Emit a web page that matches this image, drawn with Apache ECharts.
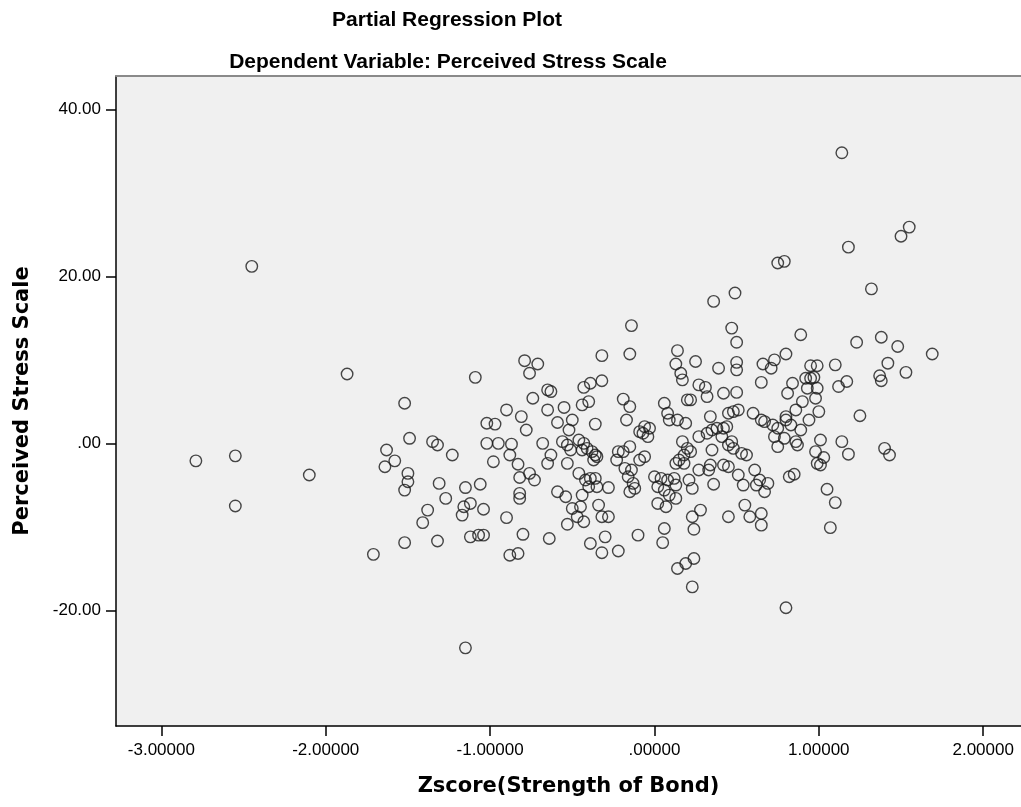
<!DOCTYPE html>
<html>
<head>
<meta charset="utf-8">
<title>Partial Regression Plot</title>
<script src="https://cdn.jsdelivr.net/npm/echarts@6.0.0/dist/echarts.min.js"></script>
<style>
  html, body { margin: 0; padding: 0; background: #fff; }
  #main { width: 1021px; height: 807px; }
</style>
</head>
<body>
<div id="main"></div>
<script>
// tick positions
var xTicks = [-3, -2, -1, 0, 1, 2];
var yTicks = [-20, 0, 20, 40];

// Zscore(Strength of Bond)
var strengthZ = [
  -2.45,-2.79,-2.55,-2.55,-2.10,-0.79,-0.71,-1.15,0.80,
  -1.87,-1.09,-0.76,-1.52,-1.49,-1.35,-1.32,-1.23,-1.63,-1.58,
  -1.64,-1.50,-1.50,-1.52,-1.31,-1.27,-1.38,-1.41,-1.52,-1.32,
  -1.71,-1.15,-1.06,-1.12,-1.16,-1.17,-1.04,-0.90,-1.12,-1.07,
  -1.04,-0.88,-0.83,-0.80,-0.64,-1.02,-0.97,-1.02,-0.95,-0.87,
  -0.90,-0.81,-0.78,-0.74,-0.98,-0.88,-0.83,-0.82,-0.76,-0.73,
  -0.82,-0.82,-0.65,-0.63,-0.65,-0.59,-0.68,-0.63,-0.65,-0.59,
  1.14,1.55,1.50,1.18,0.75,0.79,1.32,0.36,0.49,-0.14,
  0.47,0.50,0.89,1.23,1.38,1.48,1.69,0.80,-0.15,-0.32,
  0.14,0.13,0.25,0.39,0.50,0.50,0.66,0.73,0.71,0.95,
  0.99,1.10,1.42,
  0.16,0.17,-0.32,-0.39,-0.43,0.27,0.31,0.32,0.22,0.20,
  0.42,0.50,0.65,-0.19,-0.15,-0.17,-0.40,-0.44,-0.55,0.06,
  0.08,0.09,0.14,0.19,0.34,0.45,0.48,0.51,0.60,0.65,
  0.67,0.72,0.75,0.73,0.75,-0.36,-0.50,-0.52,-0.06,-0.03,
  -0.07,-0.04,-0.09,-0.56,-0.53,-0.51,-0.46,-0.43,-0.41,-0.44,
  -0.38,-0.36,-0.35,-0.37,-0.53,-0.22,-0.19,-0.23,-0.15,-0.18,
  -0.14,-0.16,-0.13,-0.15,-0.12,-0.09,-0.06,-0.46,-0.42,-0.39,
  -0.36,-0.40,-0.35,-0.28,-0.54,-0.44,-0.50,-0.45,-0.47,-0.53,
  -0.43,-0.34,-0.32,-0.28,-0.39,-0.30,-0.32,-0.22,-0.10,0.00,
  0.04,0.08,0.02,0.06,0.09,0.02,0.07,0.13,0.06,0.05,
  0.14,0.19,0.24,0.23,0.23,0.28,0.24,0.45,0.36,0.21,
  0.23,0.12,0.13,0.17,0.20,0.22,0.18,0.15,0.18,0.13,
  0.27,0.32,0.35,0.38,0.42,0.44,0.41,0.35,0.45,0.48,
  0.47,0.53,0.56,0.27,0.34,0.33,0.42,0.45,0.51,0.54,
  0.61,0.64,0.69,0.67,0.62,0.55,0.58,0.65,0.65,
  0.84,0.92,0.95,0.97,0.81,0.93,0.99,0.90,0.98,0.86,
  0.80,0.80,1.00,0.94,0.83,0.89,0.79,0.86,0.87,1.01,
  1.14,1.18,0.98,1.03,0.99,1.01,0.82,0.85,1.05,1.10,
  1.07,1.25,1.40,1.43,1.12,1.17,1.37,1.38,1.53
];

// Perceived Stress Scale (partial residual), same order
var stressScore = [
  21.2,-2.1,-1.5,-7.5,-3.8,9.9,9.5,-24.5,-19.7,
  8.3,7.9,8.4,4.8,0.6,0.2,-0.2,-1.4,-0.8,-2.1,
  -2.8,-3.6,-4.6,-5.6,-4.8,-6.6,-8.0,-9.5,-11.9,-11.7,
  -13.3,-5.3,-4.9,-7.2,-7.6,-8.6,-7.9,-8.9,-11.2,-11.0,
  -11.0,-13.4,-13.2,-10.9,-11.4,2.4,2.3,0.0,0.0,-0.1,
  4.0,3.2,1.6,5.4,-2.2,-1.4,-2.5,-4.1,-3.6,-4.4,
  -6.0,-6.6,6.4,6.2,4.0,2.5,0.0,-1.4,-2.4,-5.8,
  34.8,25.9,24.8,23.5,21.6,21.8,18.5,17.0,18.0,14.1,
  13.8,12.1,13.0,12.1,12.7,11.6,10.7,10.7,10.7,10.5,
  11.1,9.5,9.8,9.0,9.7,8.8,9.5,10.0,9.0,9.3,
  9.3,9.4,9.6,
  8.4,7.6,7.5,7.2,6.7,7.0,6.7,5.6,5.2,5.2,
  6.0,6.1,7.3,5.3,4.4,2.8,5.0,4.6,4.3,4.8,
  3.6,2.8,2.8,2.4,3.2,3.6,3.8,4.0,3.6,2.8,
  2.6,2.2,1.8,0.8,-0.4,2.3,2.8,1.6,2.0,1.8,
  1.2,0.8,1.4,0.2,-0.2,-0.8,0.4,0.0,-0.6,-0.8,
  -1.0,-1.4,-1.6,-2.0,-2.4,-1.0,-1.0,-2.0,-0.4,-3.0,
  -3.2,-4.0,-4.8,-5.8,-5.4,-2.0,-1.6,-3.6,-4.4,-4.2,
  -4.2,-5.2,-5.2,-5.3,-6.4,-6.2,-7.8,-7.6,-8.8,-9.7,
  -9.4,-7.4,-8.8,-8.8,-12.0,-11.2,-13.1,-12.9,-11.0,-4.0,
  -4.2,-4.4,-5.2,-5.6,-6.2,-7.2,-7.6,-6.6,-10.2,-11.9,
  -15.0,-14.4,-13.8,-17.2,-8.8,-8.0,-10.3,-8.8,-4.9,-4.4,
  -5.4,-4.2,-5.0,0.2,-0.6,-1.0,-1.4,-2.0,-2.4,-2.4,
  0.8,1.2,1.6,1.8,1.8,2.0,0.8,-0.8,-0.2,-0.6,
  0.2,-1.2,-1.4,-3.2,-2.6,-3.2,-2.6,-2.8,-3.8,-5.0,
  -3.2,-4.4,-4.8,-5.8,-5.0,-7.4,-8.8,-8.4,-9.8,
  7.2,7.8,7.8,7.9,6.0,6.6,6.6,5.0,5.4,4.0,
  3.2,2.8,3.8,2.8,2.2,1.6,0.6,0.2,-0.2,0.4,
  0.2,-1.3,-1.0,-1.7,-2.4,-2.6,-4.0,-3.7,-5.5,-7.1,
  -10.1,3.3,-0.6,-1.4,6.8,7.4,8.1,7.5,8.5
];

var points = [];
var n = Math.min(strengthZ.length, stressScore.length);
for (var i = 0; i < n; i++) {
  points.push([strengthZ[i], stressScore[i]]);
}

// SPSS style numbers: ".00000", ".00"
function fmtNum(v, d) {
  return v.toFixed(d).replace(/^(-?)0\./, '$1.');
}

var labelFont = "'Liberation Sans', Arial, sans-serif";
var titleFont = "'Liberation Sans', Arial, sans-serif";
var nameFont = "'DejaVu Sans', Verdana, sans-serif";

var chart = echarts.init(document.getElementById('main'));
var option = {
  backgroundColor: '#fff',
  animation: false,
  title: [
    {
      text: 'Partial Regression Plot',
      left: 442, top: 5, textAlign: 'center',
      textStyle: { fontFamily: titleFont, fontSize: 21, fontWeight: 'bold', color: '#000' }
    },
    {
      text: 'Dependent Variable: Perceived Stress Scale',
      left: 443, top: 47, textAlign: 'center',
      textStyle: { fontFamily: titleFont, fontSize: 21, fontWeight: 'bold', color: '#000' }
    }
  ],
  grid: {
    left: 116, right: 0, top: 76, bottom: 81,
    show: true, backgroundColor: '#f0f0f0', borderWidth: 0
  },
  xAxis: [
    {
      type: 'value', min: -3.276, max: 2.23,
      name: 'Zscore(Strength of Bond)',
      nameLocation: 'middle', nameGap: 50,
      nameTextStyle: { fontFamily: nameFont, fontSize: 21, fontWeight: 'bold', color: '#000' },
      axisLine: { show: true, onZero: false, lineStyle: { color: '#000', width: 1.5 } },
      axisTick: { show: true, length: 10, customValues: xTicks, lineStyle: { color: '#000', width: 1.5 } },
      axisLabel: {
        customValues: xTicks, margin: 16,
        formatter: function (v) { return fmtNum(v, 5); },
        fontFamily: labelFont, fontSize: 17, color: '#000'
      },
      splitLine: { show: false }
    },
    {
      // top frame line
      type: 'value', position: 'top', min: -3.276, max: 2.23,
      axisLine: { show: true, onZero: false, lineStyle: { color: '#8a8a8a', width: 2 } },
      axisTick: { show: false },
      axisLabel: { show: false },
      splitLine: { show: false }
    }
  ],
  yAxis: {
    type: 'value', min: -33.86, max: 44.0,
    name: 'Perceived Stress Scale',
    nameLocation: 'middle', nameGap: 83, nameRotate: 90,
    nameTextStyle: { fontFamily: nameFont, fontSize: 21, fontWeight: 'bold', color: '#000' },
    axisLine: { show: true, onZero: false, lineStyle: { color: '#000', width: 1.5 } },
    axisTick: { show: true, length: 10, customValues: yTicks, lineStyle: { color: '#000', width: 1.5 } },
    axisLabel: {
      customValues: yTicks, margin: 15,
      formatter: function (v) { return fmtNum(v, 2); },
      fontFamily: labelFont, fontSize: 17, color: '#000'
    },
    splitLine: { show: false }
  },
  series: [
    {
      type: 'scatter',
      data: points,
      symbol: 'circle',
      symbolSize: 11.5,
      silent: true,
      itemStyle: { color: 'rgba(0,0,0,0)', borderColor: '#1a1a1a', borderWidth: 1.4 }
    }
  ]
};
chart.setOption(option);
</script>
</body>
</html>
